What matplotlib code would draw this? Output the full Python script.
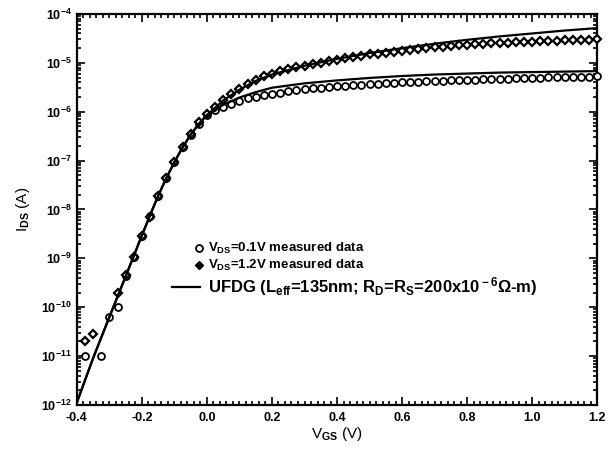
import numpy as np
from matplotlib import pyplot as plt
from matplotlib.lines import Line2D
from matplotlib.ticker import MultipleLocator, LogLocator, NullFormatter

plt.rcParams['font.family'] = ['Liberation Sans', 'DejaVu Sans']
plt.rcParams['font.weight'] = 'bold'
plt.rcParams['mathtext.fontset'] = 'custom'
plt.rcParams['mathtext.rm'] = 'Liberation Sans:bold'
plt.rcParams['mathtext.it'] = 'Liberation Sans:italic:bold'
plt.rcParams['mathtext.bf'] = 'Liberation Sans:bold'

# measured data, Vds = 0.1 V (log10 of Ids)
v_c = [-0.375, -0.325, -0.3, -0.275, -0.25, -0.225, -0.2, -0.175, -0.15, -0.125,
       -0.1, -0.075, -0.05, -0.025,
       0.0, 0.025, 0.05, 0.075, 0.1, 0.125, 0.15, 0.175, 0.2, 0.225, 0.25, 0.275,
       0.3, 0.325, 0.35, 0.375, 0.4, 0.425, 0.45, 0.475, 0.5, 0.525, 0.55, 0.575,
       0.6, 0.625, 0.65, 0.675, 0.7, 0.725, 0.75, 0.775, 0.8, 0.825, 0.85, 0.875,
       0.9, 0.925, 0.95, 0.975, 1.0, 1.025, 1.05, 1.075, 1.1, 1.125, 1.15, 1.175, 1.2]
log_c = [-11.0, -11.0, -10.2, -10.0, -9.37, -8.98, -8.55, -8.13, -7.73, -7.36,
         -7.03, -6.73, -6.47, -6.25,
         -6.07, -5.97, -5.9, -5.84, -5.78, -5.73, -5.69, -5.66, -5.63, -5.61, -5.585, -5.565,
         -5.545, -5.525, -5.51, -5.495, -5.48, -5.47, -5.46, -5.45, -5.44, -5.43, -5.42, -5.41,
         -5.40, -5.395, -5.39, -5.38, -5.375, -5.37, -5.36, -5.355, -5.35, -5.345, -5.34, -5.335,
         -5.33, -5.325, -5.32, -5.315, -5.31, -5.305, -5.30, -5.30, -5.295, -5.29, -5.29, -5.285, -5.28]

# measured data, Vds = 1.2 V
v_d = [-0.375, -0.35, -0.275, -0.25, -0.225, -0.2, -0.175, -0.15, -0.125,
       -0.1, -0.075, -0.05, -0.025,
       0.0, 0.025, 0.05, 0.075, 0.1, 0.125, 0.15, 0.175, 0.2, 0.225, 0.25, 0.275,
       0.3, 0.325, 0.35, 0.375, 0.4, 0.425, 0.45, 0.475, 0.5, 0.525, 0.55, 0.575,
       0.6, 0.625, 0.65, 0.675, 0.7, 0.725, 0.75, 0.775, 0.8, 0.825, 0.85, 0.875,
       0.9, 0.925, 0.95, 0.975, 1.0, 1.025, 1.05, 1.075, 1.1, 1.125, 1.15, 1.175, 1.2]
log_d = [-10.7, -10.55, -9.7, -9.35, -8.97, -8.55, -8.15, -7.72, -7.35,
         -7.02, -6.72, -6.46, -6.22,
         -6.04, -5.9, -5.76, -5.64, -5.53, -5.43, -5.35, -5.28, -5.22, -5.17, -5.13, -5.09,
         -5.06, -5.03, -5.00, -4.97, -4.94, -4.91, -4.88, -4.86, -4.83, -4.81, -4.79, -4.77,
         -4.75, -4.73, -4.715, -4.70, -4.685, -4.67, -4.66, -4.645, -4.635, -4.625, -4.615, -4.605,
         -4.60, -4.59, -4.58, -4.575, -4.565, -4.56, -4.55, -4.545, -4.54, -4.535, -4.53, -4.525, -4.52]

# UFDG model curves
v_sub = [-0.4, -0.35, -0.3, -0.25, -0.2, -0.175, -0.15, -0.125, -0.1, -0.075, -0.05, -0.025, 0.0]
log_sub = [-11.95, -11.04, -10.2, -9.37, -8.53, -8.12, -7.72, -7.36, -7.03, -6.73, -6.47, -6.25, -6.07]
v_sat = [0.05, 0.1, 0.15, 0.2, 0.3, 0.4, 0.5, 0.6, 0.7, 0.8, 0.9, 1.0, 1.1, 1.2]
log_lo = [-5.86, -5.71, -5.6, -5.51, -5.42, -5.36, -5.31, -5.27, -5.24, -5.22, -5.2, -5.19, -5.18, -5.17]
log_hi = [-5.77, -5.55, -5.37, -5.24, -5.06, -4.92, -4.8, -4.7, -4.61, -4.53, -4.46, -4.4, -4.34, -4.29]

W, H = 610, 449
fig = plt.figure(figsize=(W / 100, H / 100), dpi=100)
ax = fig.add_axes([0.126, 0.098, 0.853, 0.871])

ax.plot(v_c, 10 ** np.array(log_c), 'o', ms=5, mfc='white', mec='black', mew=1.3, clip_on=False, zorder=3)
ax.plot(v_d, 10 ** np.array(log_d), 'D', ms=4.2, mfc='white', mec='black', mew=1.6, clip_on=False, zorder=3)
ax.plot(v_sub + v_sat, 10 ** np.array(log_sub + log_lo), '-', color='black', lw=1.6, zorder=4)
ax.plot(v_sub + v_sat, 10 ** np.array(log_sub + log_hi), '-', color='black', lw=1.6, zorder=4)

ax.set_yscale('log')
ax.set_xlim(-0.4, 1.2)
ax.set_ylim(1e-12, 1e-4)
ax.xaxis.set_minor_locator(MultipleLocator(0.02))
ax.yaxis.set_major_locator(LogLocator(base=10, numticks=20))
ax.yaxis.set_minor_locator(LogLocator(base=10, subs=np.arange(2, 10), numticks=20))
ax.yaxis.set_minor_formatter(NullFormatter())
ax.set_xticks([-0.4, -0.2, 0.0, 0.2, 0.4, 0.6, 0.8, 1.0, 1.2])
ax.set_xticklabels(['-0.4', '-0.2', '0.0', '0.2', '0.4', '0.6', '0.8', '1.0', '1.2'])
ax.tick_params(which='both', direction='in', top=True, right=True, width=1.2)
ax.tick_params(which='major', length=6, labelsize=9)
ax.tick_params(which='minor', length=3)
ax.tick_params(axis='x', pad=5)
for s in ax.spines.values():
    s.set_linewidth(1.6)

ax.set_xlabel(r'V$_{\rm GS}$ (V)', fontsize=11, labelpad=1)
ax.set_ylabel(r'I$_{\rm DS}$ (A)', fontsize=11, labelpad=7)

# legend drawn by hand: marks sit at the right end of the key, as in the original
def px(x, y):
    return x / W, 1 - y / H

rows = [
    (248, dict(ls='none', marker='o', ms=5, mfc='white', mec='black', mew=1.3),
     r'V$_{\rm DS}$=0.1V measured data', 9.5),
    (265, dict(ls='none', marker='D', ms=4.2, mfc='black', mec='black'),
     r'V$_{\rm DS}$=1.2V measured data', 9.5),
    (287, dict(color='black', lw=1.6),
     r'UFDG (L$_{\rm eff}$=135nm; R$_{\rm D}$=R$_{\rm S}$=200x10$^{\rm -6}$Ω-m)', 12),
]
for y, style, text, size in rows:
    if style.get('ls') == 'none':
        xs = [199]
    else:
        xs = [172, 200]
    fx = [px(x, y)[0] for x in xs]
    fy = [px(x, y)[1] for x in xs]
    fig.add_artist(Line2D(fx, fy, transform=fig.transFigure, **style))
    tx, ty = px(208, y)
    fig.text(tx, ty, text, fontsize=size, ha='left', va='center')

fig.savefig('out.png', dpi=100)
